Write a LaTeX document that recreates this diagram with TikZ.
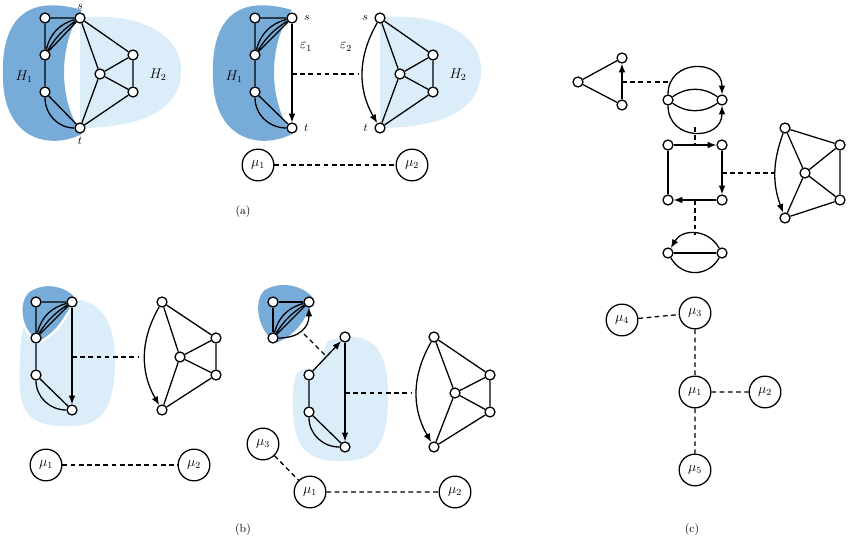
\documentclass[tikz,border=0pt]{standalone}
\usepackage{tikz}
\usetikzlibrary{arrows.meta}
\definecolor{darkblob}{RGB}{120,172,216}
\definecolor{lightblob}{RGB}{220,237,250}
\tikzset{
  v/.style={circle, draw=black, fill=white, line width=1.1pt, inner sep=0pt, minimum size=0.3cm},
  mu/.style={circle, draw=black, fill=white, line width=1.1pt, inner sep=0pt, minimum size=0.95cm, font=\large},
  e/.style={line width=1.1pt},
  arc/.style={line width=1.1pt, -{Latex[length=2.6mm,width=2mm]}},
  virt/.style={line width=1.1pt, dashed, dash pattern=on 4pt off 3pt},
}
\begin{document}
\begin{tikzpicture}[x=0.03cm,y=-0.03cm]
  \useasboundingbox (0,0) rectangle (850,544);
  % ---- (a) blobs
  \fill[darkblob] (82,10) .. controls (30,-5) and (0,15) .. (3,80) .. controls (5,140) and (50,150) .. (82,134) .. controls (58,100) and (58,45) .. cycle;
  \fill[lightblob] (80,18) .. controls (120,12) and (185,25) .. (181,75) .. controls (177,122) and (115,128) .. (80,128) -- cycle;
  \fill[darkblob] (292,10) .. controls (240,-5) and (210,15) .. (213,80) .. controls (215,140) and (260,150) .. (292,134) .. controls (268,100) and (268,45) .. cycle;
  \fill[lightblob] (380,18) .. controls (420,12) and (485,25) .. (481,75) .. controls (477,122) and (415,128) .. (380,128) -- cycle;
  % ---- (a) left
  \node[v] (a1) at (45,18) {};
  \node[v] (as) at (80,18) {};
  \node[v] (a2) at (45,55) {};
  \node[v] (a3) at (45,92) {};
  \node[v] (at) at (80,128) {};
  \node[v] (a4) at (133,55) {};
  \node[v] (a5) at (100,74) {};
  \node[v] (a6) at (133,92) {};
  \draw[e] (a1) -- (as) (a1) -- (a2) -- (a3) -- (at);
  \draw[e] (a2) -- (as) (a2) to[bend left=12] (as) (a2) to[bend left=30] (as);
  \draw[e] (a3) to[out=270,in=180] (at);
  \draw[e] (as) -- (a4) -- (a6) -- (at) -- (a5) -- (as) (a5) -- (a4) (a5) -- (a6);
  \node[above=-1pt] at (as.north) {$s$};
  \node[below] at (at.south) {$t$};
  \node at (24,77) {\large $H_1$};
  \node at (158,75) {\large $H_2$};
  % ---- (a) right
  \node[v] (b1) at (255,18) {};
  \node[v] (bs) at (292,18) {};
  \node[v] (b2) at (255,55) {};
  \node[v] (b3) at (255,92) {};
  \node[v] (bt) at (292,128) {};
  \draw[e] (b1) -- (bs) (b1) -- (b2) -- (b3) -- (bt);
  \draw[e] (b2) -- (bs) (b2) to[bend left=12] (bs) (b2) to[bend left=30] (bs);
  \draw[e] (b3) to[out=270,in=180] (bt);
  \draw[arc] (bs) -- (bt);
  \node[right=2pt] at (bs.east) {$s$};
  \node[right=2pt] at (bt.east) {$t$};
  \node at (306,47) {\large $\varepsilon_1$};
  \node at (234,77) {\large $H_1$};
  \node[v] (cs) at (380,18) {};
  \node[v] (ct) at (380,128) {};
  \node[v] (c1) at (433,55) {};
  \node[v] (c2) at (400,74) {};
  \node[v] (c3) at (433,92) {};
  \draw[arc] (cs) to[out=240,in=120] (ct);
  \draw[e] (cs) -- (c1) -- (c3) -- (ct) -- (c2) -- (cs) (c2) -- (c1) (c2) -- (c3);
  \node[left=2pt] at (cs.west) {$s$};
  \node[left=2pt] at (ct.west) {$t$};
  \node at (346,47) {\large $\varepsilon_2$};
  \node at (458,75) {\large $H_2$};
  \coordinate (ae1) at (292,74);
  \coordinate (ae2) at (359,74);
  \draw[virt] (ae1) -- (ae2);
  \node[mu] (amu1) at (258,165) {$\mu_1$};
  \node[mu] (amu2) at (412,165) {$\mu_2$};
  \draw[virt] (amu1) -- (amu2);
  \node at (243,212) {(a)};
  % ---- (b) left
  \fill[lightblob] (40,306) .. controls (80,290) and (115,300) .. (115,360) .. controls (115,420) and (95,428) .. (60,426) .. controls (20,425) and (18,400) .. (20,360) .. controls (20,330) and (25,315) .. cycle;
  \fill[darkblob, draw=white, line width=2pt] (30,290) .. controls (50,278) and (75,290) .. (77,300) .. controls (65,315) and (62,330) .. (40,342) .. controls (20,335) and (15,300) .. cycle;
  \node[v] (d1) at (36,302) {};
  \node[v] (d2) at (72,302) {};
  \node[v] (d3) at (36,338) {};
  \node[v] (d4) at (36,375) {};
  \node[v] (d5) at (72,410) {};
  \draw[e] (d1) -- (d2) (d1) -- (d3) -- (d4) -- (d5);
  \draw[e] (d3) -- (d2) (d3) to[bend left=12] (d2) (d3) to[bend left=30] (d2);
  \draw[e] (d4) to[out=270,in=180] (d5);
  \draw[arc] (d2) -- (d5);
  \node[v] (f1) at (162,302) {};
  \node[v] (f2) at (216,338) {};
  \node[v] (f3) at (180,357) {};
  \node[v] (f4) at (216,375) {};
  \node[v] (f5) at (162,410) {};
  \draw[arc] (f1) to[out=240,in=120] (f5);
  \draw[e] (f1) -- (f2) -- (f4) -- (f5) -- (f3) -- (f1) (f3) -- (f2) (f3) -- (f4);
  \coordinate (be1) at (72,357);
  \coordinate (be2) at (139,357);
  \draw[virt] (be1) -- (be2);
  \node[mu] (bmu1) at (46,465) {$\mu_1$};
  \node[mu] (bmu2) at (194,465) {$\mu_2$};
  \draw[virt] (bmu1) -- (bmu2);
  % ---- (b) right
  \fill[lightblob] (330,340) .. controls (370,330) and (388,345) .. (388,395) .. controls (388,455) and (370,462) .. (335,461) .. controls (295,460) and (292,430) .. (293,395) .. controls (294,360) and (305,372) .. (318,368) .. controls (325,360) and (322,345) .. cycle;
  \fill[darkblob] (265,290) .. controls (285,278) and (310,290) .. (314,300) .. controls (305,318) and (300,332) .. (278,342) .. controls (258,335) and (252,300) .. cycle;
  \node[v] (g1) at (273,302) {};
  \node[v] (g2) at (309,302) {};
  \node[v] (g3) at (273,338) {};
  \draw[e] (g1) -- (g2) (g1) -- (g3);
  \draw[e] (g3) -- (g2) (g3) to[bend left=12] (g2) (g3) to[bend left=30] (g2);
  \draw[arc] (g3) to[out=0,in=270,looseness=1.2] (g2);
  \node[v] (h1) at (345,337) {};
  \node[v] (h2) at (309,375) {};
  \node[v] (h3) at (309,412) {};
  \node[v] (h4) at (345,447) {};
  \draw[arc] (h2) -- (h1);
  \draw[arc] (h1) -- (h4);
  \draw[e] (h2) -- (h3) -- (h4) (h3) to[out=270,in=180] (h4);
  \coordinate (ge1) at (304,334);
  \coordinate (ge2) at (326,356);
  \draw[virt] (ge1) -- (ge2);
  \node[v] (k1) at (434,337) {};
  \node[v] (k2) at (490,375) {};
  \node[v] (k3) at (455,393) {};
  \node[v] (k4) at (490,412) {};
  \node[v] (k5) at (434,447) {};
  \draw[arc] (k1) to[out=240,in=120] (k5);
  \draw[e] (k1) -- (k2) -- (k4) -- (k5) -- (k3) -- (k1) (k3) -- (k2) (k3) -- (k4);
  \coordinate (he1) at (345,393);
  \coordinate (he2) at (411,393);
  \draw[virt] (he1) -- (he2);
  \node[mu] (cmu3) at (263,444) {$\mu_3$};
  \node[mu] (cmu1) at (310,492) {$\mu_1$};
  \node[mu] (cmu2) at (455,492) {$\mu_2$};
  \draw[virt] (cmu3) -- (cmu1) (cmu1) -- (cmu2);
  \node at (243,530) {(b)};
  % ---- (c)
  \node[v] (p1) at (578,82) {};
  \node[v] (p2) at (622,58) {};
  \node[v] (p3) at (622,105) {};
  \draw[e] (p1) -- (p2) (p1) -- (p3);
  \draw[arc] (p3) -- (p2);
  \node[v] (m1) at (668,100) {};
  \node[v] (m2) at (722,100) {};
  \draw[arc] (m1) to[out=90,in=90,looseness=1.7] (m2);
  \draw[arc] (m1) to[out=270,in=270,looseness=1.7] (m2);
  \draw[e] (m1) to[bend left=35] (m2) (m1) to[bend right=35] (m2);
  \coordinate (pe1) at (622,82);
  \coordinate (pe2) at (670,82);
  \draw[virt] (pe1) -- (pe2);
  \node[v] (q1) at (668,145) {};
  \node[v] (q2) at (722,145) {};
  \node[v] (q3) at (722,200) {};
  \node[v] (q4) at (668,200) {};
  \draw[arc] (q1) -- (q2);
  \draw[arc] (q2) -- (q3);
  \draw[arc] (q3) -- (q4);
  \draw[e] (q4) -- (q1);
  \coordinate (me1) at (695,127);
  \coordinate (me2) at (695,145);
  \draw[virt] (me1) -- (me2);
  \node[v] (r1) at (785,128) {};
  \node[v] (r2) at (840,145) {};
  \node[v] (r3) at (805,173) {};
  \node[v] (r4) at (840,200) {};
  \node[v] (r5) at (785,218) {};
  \draw[arc] (r1) to[out=250,in=110] (r5);
  \draw[e] (r1) -- (r2) -- (r4) -- (r5) -- (r3) -- (r1) (r3) -- (r2) (r3) -- (r4);
  \coordinate (qe1) at (722,173);
  \coordinate (qe2) at (774,173);
  \draw[virt] (qe1) -- (qe2);
  \node[v] (n1) at (668,253) {};
  \node[v] (n2) at (722,253) {};
  \draw[e] (n1) -- (n2);
  \draw[arc] (n2) to[out=120,in=60,looseness=1.2] (n1);
  \draw[e] (n1) to[out=-60,in=-120,looseness=1.2] (n2);
  \coordinate (ne1) at (695,200);
  \coordinate (ne2) at (695,235);
  \draw[virt] (ne1) -- (ne2);
  \node[mu] (dmu4) at (622,320) {$\mu_4$};
  \node[mu] (dmu3) at (695,313) {$\mu_3$};
  \node[mu] (dmu1) at (695,392) {$\mu_1$};
  \node[mu] (dmu2) at (765,392) {$\mu_2$};
  \node[mu] (dmu5) at (695,470) {$\mu_5$};
  \draw[virt] (dmu4) -- (dmu3) (dmu3) -- (dmu1) (dmu1) -- (dmu2) (dmu1) -- (dmu5);
  \node at (692,530) {(c)};
\end{tikzpicture}
\end{document}
